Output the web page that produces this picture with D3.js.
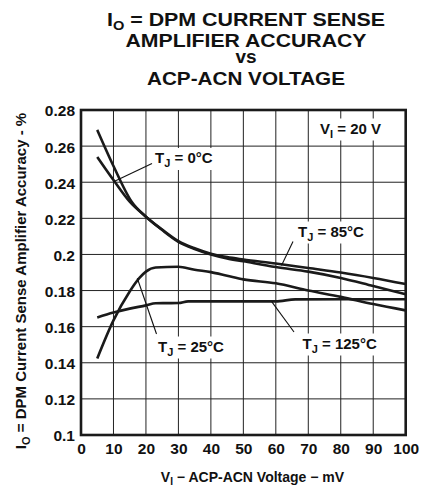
<!DOCTYPE html>
<html>
<head>
<meta charset="utf-8">
<script src="https://cdn.jsdelivr.net/npm/d3@7"></script>
<style>
  html, body { margin: 0; padding: 0; background: #fff; }
  svg { display: block; }
  text { font-family: "Liberation Sans", Arial, Helvetica, sans-serif; font-weight: bold; fill: #111; }
</style>
</head>
<body>
<svg id="chart" width="432" height="489"></svg>
<script>
// ---- data ----
const xTicks = [0, 10, 20, 30, 40, 50, 60, 70, 80, 90, 100];
const yTicks = [0.1, 0.12, 0.14, 0.16, 0.18, 0.2, 0.22, 0.24, 0.26, 0.28];
const yTickLabels = ["0.1", "0.12", "0.14", "0.16", "0.18", "0.2", "0.22", "0.24", "0.26", "0.28"];

const voltage0C = [5, 10, 15, 20, 25, 30, 35, 40, 45, 50, 60, 70, 80, 90, 100];
const accuracy0C = [0.254, 0.2412, 0.2292, 0.2209, 0.2135, 0.2070, 0.2030, 0.2000, 0.1978, 0.1962, 0.1930, 0.1905, 0.1870, 0.1825, 0.1780];

const voltage85C = [5, 10, 15.6, 20, 25, 30, 35, 40, 45, 50, 60, 70, 80, 90, 100];
const accuracy85C = [0.269, 0.2490, 0.2292, 0.2209, 0.2138, 0.2074, 0.2034, 0.2004, 0.1985, 0.1972, 0.1950, 0.1925, 0.1900, 0.1870, 0.1836];

const voltage25C = [5, 10, 15, 18, 20, 23, 30, 35, 40, 45, 50, 60, 70, 80, 90, 100];
const accuracy25C = [0.1424, 0.1635, 0.1795, 0.1870, 0.1905, 0.1928, 0.1932, 0.1915, 0.1902, 0.1882, 0.1862, 0.1840, 0.1800, 0.1765, 0.1725, 0.1690];

const voltage125C = [5, 10, 15, 20, 23, 30, 33, 60, 66, 100];
const accuracy125C = [0.1651, 0.1678, 0.1700, 0.1718, 0.1730, 0.1731, 0.1740, 0.1740, 0.1751, 0.1752];

const titleLines = ["DPM CURRENT SENSE", "AMPLIFIER ACCURACY", "vs", "ACP-ACN VOLTAGE"];

// ---- layout ----
const svg = d3.select("#chart");
const L = 81, R = 405.7, T = 110, B = 435;
const x = d3.scaleLinear().domain([0, 100]).range([L, R]);
const y = d3.scaleLinear().domain([0.1, 0.28]).range([B, T]);

// title
const titleX = 246;
const tl = svg.append("text").attr("x", titleX).attr("y", 26).attr("text-anchor", "middle")
  .style("font-size", "19px").attr("textLength", 278).attr("lengthAdjust", "spacingAndGlyphs");
tl.append("tspan").text("I");
tl.append("tspan").attr("dy", 4).style("font-size", "13px").text("O");
tl.append("tspan").attr("dy", -4).text(" = " + titleLines[0]);
const titleY = [46.7, 63.3, 85];
const titleW = [241, null, 198];
titleY.forEach((yy, i) => {
  const t = svg.append("text").attr("x", titleX).attr("y", yy).attr("text-anchor", "middle")
    .style("font-size", "19px").text(titleLines[i + 1]);
  if (titleW[i]) t.attr("textLength", titleW[i]).attr("lengthAdjust", "spacingAndGlyphs");
});

// grid
const grid = svg.append("g");
grid.selectAll("line.v").data(xTicks.slice(1, -1)).join("line")
  .attr("x1", d => x(d)).attr("x2", d => x(d)).attr("y1", T).attr("y2", B)
  .attr("stroke", "#222").attr("stroke-width", 1);
grid.selectAll("line.h").data(yTicks.slice(1, -1)).join("line")
  .attr("y1", d => y(d)).attr("y2", d => y(d)).attr("x1", L).attr("x2", R)
  .attr("stroke", "#222").attr("stroke-width", 1);

// axes tick labels
const xAxis = d3.axisBottom(x).tickValues(xTicks).tickSize(0).tickPadding(6).tickFormat(d3.format("d"));
const gx = svg.append("g").attr("transform", `translate(0,${B + 2})`).call(xAxis);
gx.select(".domain").remove();
gx.selectAll("text").style("font-size", "15.5px").style("font-family", "'Liberation Sans', Arial, sans-serif").style("font-weight", "bold").attr("fill", "#111");

const yAxis = d3.axisLeft(y).tickValues(yTicks).tickSize(0).tickPadding(6).tickFormat((d, i) => yTickLabels[i]);
const gy = svg.append("g").attr("transform", `translate(${L},1)`).call(yAxis);
gy.select(".domain").remove();
gy.selectAll("text").style("font-size", "15.5px").style("font-family", "'Liberation Sans', Arial, sans-serif").style("font-weight", "bold").attr("fill", "#111");

// curves
const line = d3.line().x(d => x(d[0])).y(d => y(d[1])).curve(d3.curveMonotoneX);
const series = [
  [voltage0C, accuracy0C],
  [voltage85C, accuracy85C],
  [voltage25C, accuracy25C],
  [voltage125C, accuracy125C]
];
series.forEach(([vx, vy]) => {
  svg.append("path").datum(d3.zip(vx, vy)).attr("d", line)
    .attr("fill", "none").attr("stroke", "#1a1a1a").attr("stroke-width", 2.6)
    .attr("stroke-linejoin", "round");
});

// frame
svg.append("rect").attr("x", L).attr("y", T).attr("width", R - L).attr("height", B - T)
  .attr("fill", "none").attr("stroke", "#1a1a1a").attr("stroke-width", 2.6);

// labels with pointers
function label(tx, ty, main, sub, rest, ptr) {
  const g = svg.append("g");
  if (ptr) {
    g.append("line").attr("x1", ptr[0]).attr("y1", ptr[1]).attr("x2", ptr[2]).attr("y2", ptr[3])
      .attr("stroke", "#111").attr("stroke-width", 1.1);
  }
  const t = g.append("text").attr("x", tx).attr("y", ty).style("font-size", "15px");
  t.append("tspan").text(main);
  t.append("tspan").attr("dy", 4).style("font-size", "11px").text(sub);
  t.append("tspan").attr("dy", -4).text(rest);
  const bb = t.node().getBBox();
  g.insert("rect", "text").attr("x", bb.x - 2).attr("y", bb.y - 1).attr("width", bb.width + 4).attr("height", bb.height + 2)
    .attr("fill", "#fff");
  return g;
}
label(320, 133.5, "V", "I", " = 20 V", null);
label(155, 163, "T", "J", " = 0°C", [152, 163.5, 113, 182]);
label(298, 236.5, "T", "J", " = 85°C", [293, 241.5, 281.5, 265.5]);
label(158, 351.5, "T", "J", " = 25°C", [156.5, 334, 137.3, 278.3]);
label(302.5, 348.5, "T", "J", " = 125°C", [294, 332, 271.7, 301.7]);

// axis titles
const xt = svg.append("text").attr("x", 252.5).attr("y", 481.5).attr("text-anchor", "middle").style("font-size", "14px");
xt.append("tspan").text("V");
xt.append("tspan").attr("dy", 3.5).style("font-size", "10px").text("I");
xt.append("tspan").attr("dy", -3.5).text(" \u2212 ACP-ACN Voltage \u2212 mV");

const yt = svg.append("text").attr("transform", "translate(26,281) rotate(-90)").attr("text-anchor", "middle").style("font-size", "15px");
yt.append("tspan").text("I");
yt.append("tspan").attr("dy", 4).style("font-size", "11px").text("O");
yt.append("tspan").attr("dy", -4).text(" = DPM Current Sense Amplifier Accuracy - %");
</script>
</body>
</html>
